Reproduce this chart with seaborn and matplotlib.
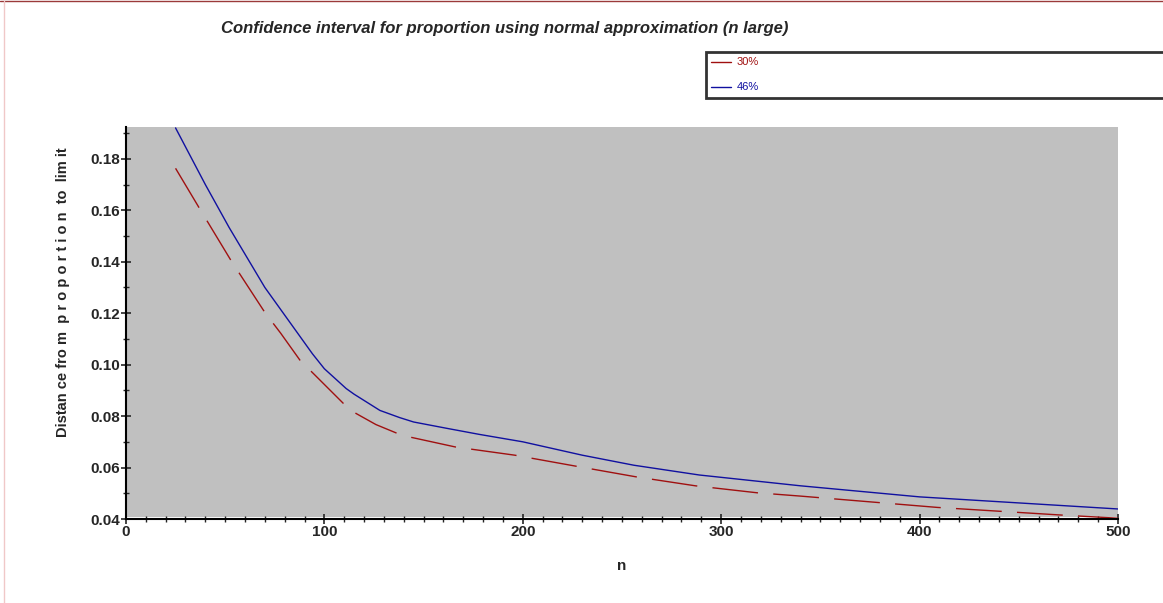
import matplotlib
matplotlib.use('Agg')
import matplotlib.pyplot as plt
import seaborn as sns
import pandas as pd
from matplotlib.lines import Line2D
from matplotlib.ticker import MultipleLocator, FormatStrFormatter

# values
n_30 = [25, 37, 53, 70, 78, 88, 94, 110, 116, 126, 137, 144, 166, 196, 227, 257, 287,
        318, 340, 409, 470, 500]
dist_30 = [0.1763, 0.1608, 0.1404, 0.1203, 0.1122, 0.1014, 0.0969, 0.0846, 0.0810, 0.0767,
           0.0732, 0.0717, 0.0680, 0.0648, 0.0605, 0.0564, 0.0529, 0.0502, 0.0489, 0.0445,
           0.0416, 0.0403]
n_46 = [25, 40, 52, 70, 82, 94, 100, 111, 115, 128, 138, 145, 162, 178, 200, 230, 256,
        289, 340, 400, 500]
dist_46 = [0.192, 0.170, 0.1533, 0.130, 0.1171, 0.1042, 0.0984, 0.0907, 0.0885, 0.0822,
           0.0794, 0.0777, 0.0752, 0.0729, 0.0700, 0.0648, 0.0609, 0.0571, 0.0529, 0.0486,
           0.0439]
labels = ['30%', '46%']

df30 = pd.DataFrame({'n': n_30, 'dist': dist_30})
df46 = pd.DataFrame({'n': n_46, 'dist': dist_46})

sns.set_style('ticks')
plt.rcParams['font.family'] = ['Liberation Sans Narrow', 'Liberation Sans', 'DejaVu Sans']

fig = plt.figure(figsize=(11.63, 6.03), dpi=100)
ax = fig.add_axes([0.1083, 0.1393, 0.853, 0.6507])

red = '#a01010'
blue = '#1010a0'

ax.set_facecolor('white')
ax.axhspan(0.0407, 0.2, color='#c0c0c0', zorder=0, lw=0)

sns.lineplot(data=df30, x='n', y='dist', ax=ax, color=red, lw=1.0, label=labels[0])
ax.lines[-1].set_dashes((33, 11))
sns.lineplot(data=df46, x='n', y='dist', ax=ax, color=blue, lw=1.0, label=labels[1])

ax.set_xlim(0, 500)
ax.set_ylim(0.04, 0.1925)
ax.xaxis.set_major_locator(MultipleLocator(100))
ax.xaxis.set_minor_locator(MultipleLocator(10))
ax.yaxis.set_major_locator(MultipleLocator(0.02))
ax.yaxis.set_minor_locator(MultipleLocator(0.01))
ax.yaxis.set_major_formatter(FormatStrFormatter('%.2f'))

for s in ['top', 'right']:
    ax.spines[s].set_visible(False)
for s in ['left', 'bottom']:
    ax.spines[s].set_linewidth(1.5)
    ax.spines[s].set_color('black')

ax.tick_params(which='major', direction='inout', length=7, width=1.2, pad=1)
ax.tick_params(which='minor', direction='inout', length=5, width=1.0)
for t in ax.get_xticklabels() + ax.get_yticklabels():
    t.set_fontsize(11)
    t.set_fontweight('bold')

ax.set_xlabel('n', fontsize=11, fontweight='bold', labelpad=14)
ax.set_ylabel('Distan ce fro m  p r o p o r t i o n  to  lim it', fontsize=10.5,
              fontweight='bold')
ax.yaxis.set_label_coords(-0.056, 0.579)

fig.text(0.434, 0.953, 'Confidence interval for proportion using normal approximation (n large)',
         ha='center', va='center', fontsize=12, fontweight='bold', style='italic')

leg = ax.legend(loc='upper left', bbox_to_anchor=(0.607, 0.839, 0.45, 0.075),
                bbox_transform=fig.transFigure, mode='expand', fontsize=8,
                frameon=True, fancybox=False, edgecolor='black', handlelength=1.8,
                handletextpad=0.5, labelspacing=1.35, borderpad=0.5, borderaxespad=0)
leg.get_frame().set_linewidth(2)
for line in leg.get_lines():
    line.set_linestyle('-')
    line.set_linewidth(1.0)
for txt, c in zip(leg.get_texts(), [red, blue]):
    txt.set_color(c)

# thin frame lines of the original window
fig.add_artist(Line2D([0, 1], [0.998, 0.998], transform=fig.transFigure, color='#9b3a3a', lw=1))
fig.add_artist(Line2D([0.0035, 0.0035], [0, 0.998], transform=fig.transFigure, color='#f0c8c8', lw=1))

fig.savefig('out.png', dpi=100)
